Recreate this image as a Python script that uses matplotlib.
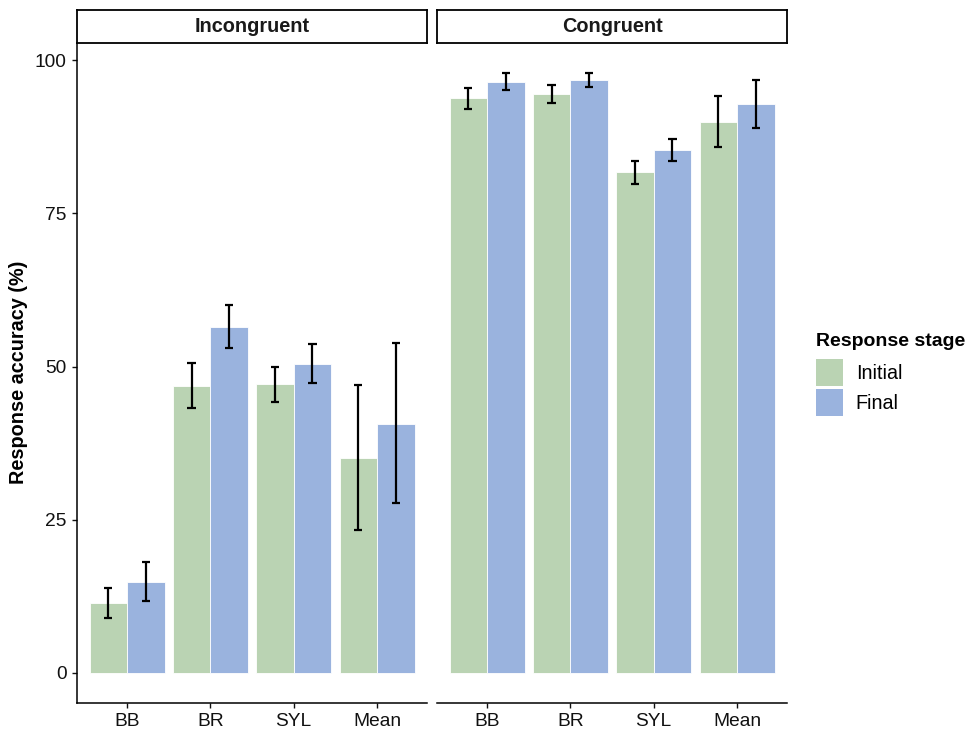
import matplotlib
matplotlib.use("Agg")
import matplotlib.pyplot as plt
from matplotlib.patches import Patch
import numpy as np

plt.rcParams['font.family'] = ['Liberation Sans', 'DejaVu Sans']

categories = ["BB", "BR", "SYL", "Mean"]
panels = ["Incongruent", "Congruent"]
stages = ["Initial", "Final"]
colors = {"Initial": "#BAD3B3", "Final": "#9AB3DE"}

# values (%) per panel, per stage
incong_initial = [11.5, 46.9, 47.1, 35.1]
incong_initial_lo = [9.0, 43.3, 44.3, 23.3]
incong_initial_hi = [13.9, 50.6, 50.0, 47.0]
incong_final = [14.9, 56.5, 50.5, 40.7]
incong_final_lo = [11.8, 53.0, 47.4, 27.7]
incong_final_hi = [18.1, 60.1, 53.7, 53.9]

cong_initial = [93.8, 94.5, 81.7, 90.0]
cong_initial_lo = [92.1, 93.1, 79.8, 85.8]
cong_initial_hi = [95.4, 95.9, 83.5, 94.2]
cong_final = [96.5, 96.7, 85.3, 92.9]
cong_final_lo = [95.2, 95.6, 83.5, 89.0]
cong_final_hi = [98.0, 97.9, 87.1, 96.7]

data = {
    "Incongruent": {
        "Initial": (incong_initial, incong_initial_lo, incong_initial_hi),
        "Final": (incong_final, incong_final_lo, incong_final_hi),
    },
    "Congruent": {
        "Initial": (cong_initial, cong_initial_lo, cong_initial_hi),
        "Final": (cong_final, cong_final_lo, cong_final_hi),
    },
}

yticks = [0, 25, 50, 75, 100]

W, H = 972, 729
fig = plt.figure(figsize=(W / 100, H / 100), dpi=100)

# y limits with ggplot-like 5% expansion
allvals = [0] + incong_initial_hi + incong_final_hi + cong_initial_hi + cong_final_hi
ymin, ymax = 0, max(allvals)
rng = ymax - ymin
ylo, yhi = ymin - 0.05 * rng, ymax + 0.05 * rng

panel_left = [77, 437]
panel_w = 350
panel_top, panel_bot = 42.5, 703
strip_top = 10

dodge = 0.9
bw = dodge / 2
tick_col = "#111111"

for pi, pname in enumerate(panels):
    ax = fig.add_axes([panel_left[pi] / W, 1 - panel_bot / H, panel_w / W, (panel_bot - panel_top) / H])
    x = np.arange(1, len(categories) + 1)
    for si, st in enumerate(stages):
        vals, lo, hi = data[pname][st]
        xs = x - dodge / 4 + si * bw
        ax.bar(xs, vals, width=bw, color=colors[st], edgecolor="white", linewidth=0.6, zorder=2)
        ax.vlines(xs, lo, hi, color="black", linewidth=1.6, zorder=3)
        ax.hlines(lo, xs - 0.05, xs + 0.05, color="black", linewidth=1.6, zorder=3)
        ax.hlines(hi, xs - 0.05, xs + 0.05, color="black", linewidth=1.6, zorder=3)
    ax.set_xlim(0.4, 4.6)
    ax.set_ylim(ylo, yhi)
    ax.set_xticks(x)
    ax.set_xticklabels(categories)
    for s in ["top", "right"]:
        ax.spines[s].set_visible(False)
    ax.spines["bottom"].set_linewidth(1.1)
    ax.spines["left"].set_linewidth(1.1)
    ax.tick_params(axis="both", length=3.5, width=1.0, labelsize=13.8, colors=tick_col, pad=4)
    if pi == 0:
        ax.set_yticks(yticks)
        ax.set_yticklabels([str(v) for v in yticks])
        ax.set_ylabel("Response accuracy (%)", fontsize=14.3, fontweight="bold", labelpad=4.5)
    else:
        ax.spines["left"].set_visible(False)
        ax.set_yticks([])
    # strip
    sax = fig.add_axes([panel_left[pi] / W, 1 - panel_top / H, panel_w / W, (panel_top - strip_top) / H])
    sax.set_xticks([])
    sax.set_yticks([])
    for s in sax.spines.values():
        s.set_linewidth(1.3)
        s.set_color("black")
    sax.text(0.5, 0.5, pname, ha="center", va="center", fontsize=14.3, fontweight="bold",
             color="#1a1a1a", transform=sax.transAxes)

# legend
fig.text(816 / W, 1 - 341 / H, "Response stage", ha="left", va="center",
         fontsize=14, fontweight="bold", color="black")
handles = [Patch(facecolor=colors[s], edgecolor="none", label=s) for s in stages]
leg = fig.legend(handles=handles, loc="upper left",
                 bbox_to_anchor=(816 / W, 1 - 359 / H), frameon=False,
                 borderpad=0, borderaxespad=0,
                 fontsize=14.2,
                 handlelength=1.37, handleheight=1.74, handletextpad=0.65, labelspacing=0.15,
                 alignment="left")

fig.savefig("out.png", dpi=100)
